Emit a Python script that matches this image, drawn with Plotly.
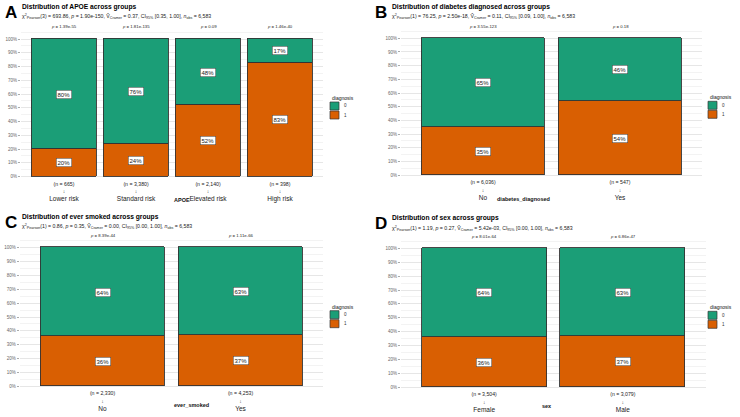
import plotly.graph_objects as go

W, H = 740, 417
GREEN = "#1B9E77"
ORANGE = "#D95F02"
FONT = "Liberation Sans, Arial, sans-serif"

# ---------------- data ----------------
apoe_groups = ["Lower risk", "Standard risk", "Elevated risk", "High risk"]
apoe_n = ["665", "3,380", "2,140", "398"]
apoe_pct1 = [20, 24, 52, 83]
apoe_pct0 = [80, 76, 48, 17]
apoe_p = ["1.39e-55", "1.81e-135", "0.09", "1.46e-40"]

diab_groups = ["No", "Yes"]
diab_n = ["6,036", "547"]
diab_pct1 = [35, 54]
diab_pct0 = [65, 46]
diab_p = ["3.55e-123", "0.18"]

smoke_groups = ["No", "Yes"]
smoke_n = ["2,330", "4,253"]
smoke_pct1 = [36, 37]
smoke_pct0 = [64, 63]
smoke_p = ["8.39e-44", "1.11e-66"]

sex_groups = ["Female", "Male"]
sex_n = ["3,504", "3,079"]
sex_pct1 = [36, 37]
sex_pct0 = [64, 63]
sex_p = ["8.01e-64", "6.86e-47"]

titles = ["Distribution of APOE across groups",
          "Distribution of diabetes diagnosed across groups",
          "Distribution of ever smoked across groups",
          "Distribution of sex across groups"]
subtitles = [
    ("3", "693.86", "1.90e-150", "0.37", "[0.35, 1.00]", "6,583"),
    ("1", "76.25", "2.50e-18", "0.11", "[0.09, 1.00]", "6,583"),
    ("1", "0.86", "0.35", "0.00", "[0.00, 1.00]", "6,583"),
    ("1", "1.19", "0.27", "5.42e-03", "[0.00, 1.00]", "6,583"),
]
xtitles = ["APOE", "diabetes_diagnosed", "ever_smoked", "sex"]
letters = ["A", "B", "C", "D"]

panels = [
    dict(groups=apoe_groups, n=apoe_n, p1=apoe_pct1, p0=apoe_pct0, p=apoe_p),
    dict(groups=diab_groups, n=diab_n, p1=diab_pct1, p0=diab_pct0, p=diab_p),
    dict(groups=smoke_groups, n=smoke_n, p1=smoke_pct1, p0=smoke_pct0, p=smoke_p),
    dict(groups=sex_groups, n=sex_n, p1=sex_pct1, p0=sex_pct0, p=sex_p),
]

# ---------------- layout geometry (pixels) ----------------
geom = [
    dict(c0=64.0, sp=72.0, y0=176.5, y100=39.0, ox=0, oy=0, leg=330),
    dict(c0=483.0, sp=137.0, y0=175.2, y100=38.3, ox=370, oy=0, leg=708),
    dict(c0=102.5, sp=138.0, y0=386.3, y100=247.7, ox=0, oy=210, leg=330),
    dict(c0=484.2, sp=138.6, y0=387.3, y100=248.3, ox=370, oy=211, leg=708),
]

YLO, YHI = -0.015, 1.06


def px(x):
    return x / W


def py(y):
    return 1 - y / H


fig = go.Figure()
annotations = []
shapes = []

for i, (pn, g) in enumerate(zip(panels, geom)):
    k = "" if i == 0 else str(i + 1)
    xa, ya = "x" + k, "y" + k
    ncat = len(pn["groups"])
    xs = list(range(ncat))
    y1 = [v / 100 for v in pn["p1"]]
    y0 = [v / 100 for v in pn["p0"]]
    fig.add_trace(go.Bar(x=xs, y=y1, width=0.9, marker=dict(color=ORANGE, line=dict(color="#333333", width=0.9)),
                         xaxis=xa, yaxis=ya, showlegend=False, name="1", hoverinfo="skip"))
    fig.add_trace(go.Bar(x=xs, y=y0, width=0.9, marker=dict(color=GREEN, line=dict(color="#333333", width=0.9)),
                         xaxis=xa, yaxis=ya, showlegend=False, name="0", hoverinfo="skip"))

    left = g["c0"] - 0.6 * g["sp"]
    right = g["c0"] + (ncat - 1 + 0.6) * g["sp"]
    unit = g["y0"] - g["y100"]
    bot = g["y0"] - YLO * unit
    top = g["y100"] - (YHI - 1) * unit

    ticktext = [f"<span style='font-size:5.2px'>(n = {n})</span><br>"
                f"<span style='font-size:5px;color:#333'>↓</span><br>"
                f"<span style='font-size:6.5px'>{name}</span>"
                for n, name in zip(pn["n"], pn["groups"])]
    fig.layout["xaxis" + k] = dict(domain=[px(left), px(right)], range=[-0.6, ncat - 1 + 0.6],
                                   anchor=ya, tickvals=xs, ticktext=ticktext, showgrid=False,
                                   zeroline=False, showline=False, ticks="", ticklen=0,
                                   tickfont=dict(size=6, color="#222", family=FONT), fixedrange=True)
    fig.layout["yaxis" + k] = dict(domain=[py(bot), py(top)], range=[YLO, YHI], anchor=xa,
                                   tickvals=[j / 10 for j in range(11)], tickformat=".0%",
                                   showgrid=True, gridcolor="#E6E6E6", gridwidth=0.6,
                                   minor=dict(dtick=0.05, showgrid=True, gridcolor="#F3F3F3", gridwidth=0.4),
                                   zeroline=False, showline=False, ticks="outside", ticklen=2,
                                   tickcolor="#AAAAAA", tickwidth=0.6,
                                   tickfont=dict(size=4.5, color="#666", family=FONT), fixedrange=True)

    # percentage labels and p-values
    for j in xs:
        annotations.append(dict(x=j, y=y1[j] / 2, xref=xa, yref=ya, text=f"{pn['p1'][j]}%",
                                showarrow=False, bgcolor="white", bordercolor="#444", borderwidth=0.5,
                                borderpad=1, font=dict(size=6, color="#222", family=FONT)))
        annotations.append(dict(x=j, y=y1[j] + y0[j] / 2, xref=xa, yref=ya, text=f"{pn['p0'][j]}%",
                                showarrow=False, bgcolor="white", bordercolor="#444", borderwidth=0.5,
                                borderpad=1, font=dict(size=6, color="#222", family=FONT)))
        annotations.append(dict(x=j, y=1.055, xref=xa, yref=ya, text=f"<i>p</i> = {pn['p'][j]}",
                                showarrow=False, yanchor="bottom",
                                font=dict(size=4.3, color="#222", family=FONT)))

    # axis title
    annotations.append(dict(x=(px(left) + px(right)) / 2, y=py(g["y0"] + 23.5), xref="paper", yref="paper",
                            text=f"<b>{xtitles[i]}</b>", showarrow=False,
                            font=dict(size=5.5, color="#111", family=FONT)))

    # panel letter, title, subtitle
    ox, oy = g["ox"], g["oy"]
    annotations.append(dict(x=px(ox + 3), y=py(oy + 12), xref="paper", yref="paper", xanchor="left",
                            yanchor="middle", text=f"<b>{letters[i]}</b>", showarrow=False,
                            font=dict(size=17, color="black", family=FONT)))
    annotations.append(dict(x=px(ox + 20), y=py(oy + 7), xref="paper", yref="paper", xanchor="left",
                            yanchor="middle", text=f"<b>{titles[i]}</b>", showarrow=False,
                            font=dict(size=6.7, color="black", family=FONT)))
    df_, chi, pv, v, ci, nobs = subtitles[i]
    sub = (f"χ<sup>2</sup><sub>Pearson</sub>({df_}) = {chi}, <i>p</i> = {pv}, "
           f"V̂<sub>Cramer</sub> = {v}, CI<sub>95%</sub> {ci}, <i>n</i><sub>obs</sub> = {nobs}")
    annotations.append(dict(x=px(ox + 20), y=py(oy + 17), xref="paper", yref="paper", xanchor="left",
                            yanchor="middle", text=sub, showarrow=False,
                            font=dict(size=5.2, color="#222", family=FONT)))

    # legend (diagnosis)
    lx = g["leg"]
    ly = g["y100"] + 59
    annotations.append(dict(x=px(lx), y=py(ly), xref="paper", yref="paper", xanchor="left", yanchor="middle",
                            text="diagnosis", showarrow=False, font=dict(size=5, color="#111", family=FONT)))
    for m, (lab, col) in enumerate([("0", GREEN), ("1", ORANGE)]):
        yt = ly + 4 + m * 9
        shapes.append(dict(type="rect", xref="paper", yref="paper", x0=px(lx), x1=px(lx + 9),
                           y0=py(yt + 8), y1=py(yt), fillcolor=col, line=dict(color="#333333", width=0.7)))
        annotations.append(dict(x=px(lx + 12), y=py(yt + 4), xref="paper", yref="paper", xanchor="left",
                                yanchor="middle", text=lab, showarrow=False,
                                font=dict(size=4.5, color="#333", family=FONT)))

fig.update_layout(width=W, height=H, margin=dict(l=0, r=0, t=0, b=0), barmode="stack", bargap=0,
                  plot_bgcolor="white", paper_bgcolor="white", showlegend=False,
                  annotations=annotations, shapes=shapes, font=dict(family=FONT))

fig.write_html("out.html")
